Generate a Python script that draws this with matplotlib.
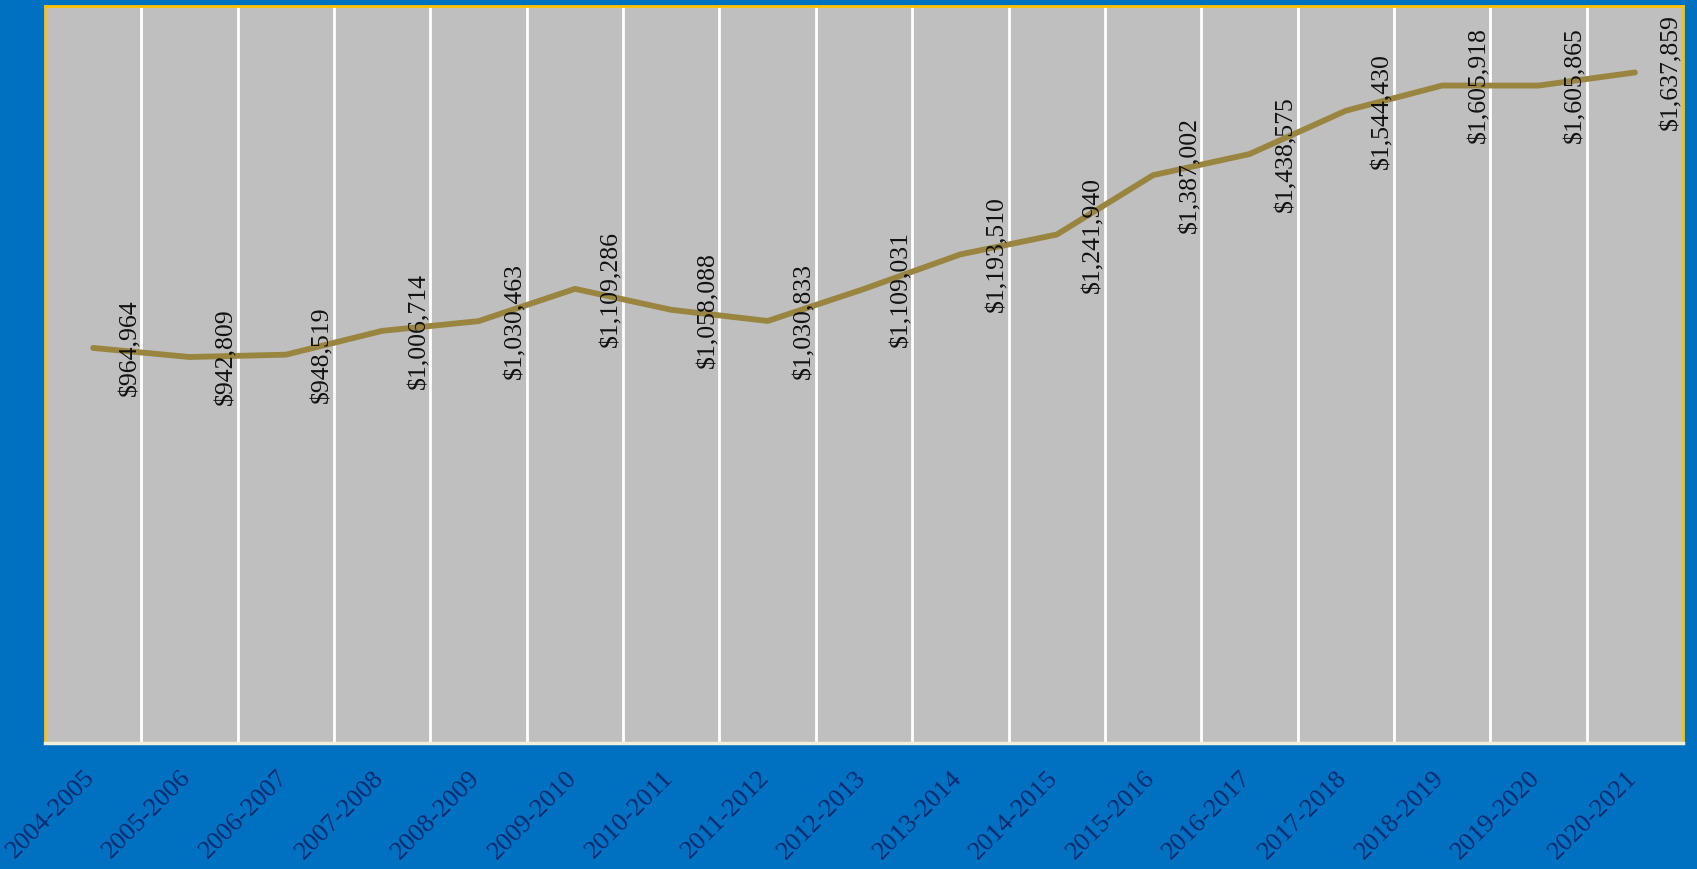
import numpy as np
import matplotlib.pyplot as plt
import matplotlib.transforms as mtransforms

years = ['2004-2005', '2005-2006', '2006-2007', '2007-2008', '2008-2009',
         '2009-2010', '2010-2011', '2011-2012', '2012-2013', '2013-2014',
         '2014-2015', '2015-2016', '2016-2017', '2017-2018', '2018-2019',
         '2019-2020', '2020-2021']
montos = [964964, 942809, 948519, 1006714, 1030463, 1109286, 1058088,
          1030833, 1109031, 1193510, 1241940, 1387002, 1438575, 1544430,
          1605918, 1605865, 1637859]

azul = '#0070C0'
gris = '#BFBFBF'
linea = '#9A8540'
fuente = 'Liberation Serif'

fig = plt.figure(figsize=(16.97, 8.69), dpi=100, facecolor=azul)
ax = fig.add_axes([0.0265, 0.145, 0.9653, 0.848])
ax.set_facecolor(gris)

x = np.arange(len(years))
ax.plot(x, montos, '-', color=linea, linewidth=4.2, solid_capstyle='round',
        solid_joinstyle='round', zorder=3)

# etiquetas de valor giradas, a la derecha de cada punto
for xi, v in zip(x, montos):
    ax.annotate('${:,}'.format(v), (xi, v), xytext=(26.5, 0),
                textcoords='offset points', rotation=90, ha='center',
                va='center', fontsize=18.5, family=fuente, color='#111111',
                zorder=4)

ax.set_xlim(-0.5, len(years) - 0.5)
ax.set_ylim(0, 1800000)
ax.set_yticks([])

ax.set_xticks(x)
ax.set_xticklabels(years, rotation=45, ha='right', va='top',
                   fontsize=19, family=fuente, color='#0A2A6E')
ax.tick_params(axis='x', length=0, pad=17)
desplaza = mtransforms.ScaledTranslation(6 / 100, 0, fig.dpi_scale_trans)
for lab in ax.get_xticklabels():
    lab.set_transform(lab.get_transform() + desplaza)

# lineas verticales entre categorias
ax.set_xticks(x[:-1] + 0.5, minor=True)
ax.tick_params(axis='x', which='minor', length=0)
ax.grid(which='minor', axis='x', color='white', linewidth=2)
ax.set_axisbelow(True)

for lado in ['top', 'left', 'right']:
    ax.spines[lado].set_color('#FFC000')
    ax.spines[lado].set_linewidth(2)
ax.spines['bottom'].set_color('#F2EEDC')
ax.spines['bottom'].set_linewidth(2.5)

plt.savefig('out.png', dpi=100, facecolor=azul)
